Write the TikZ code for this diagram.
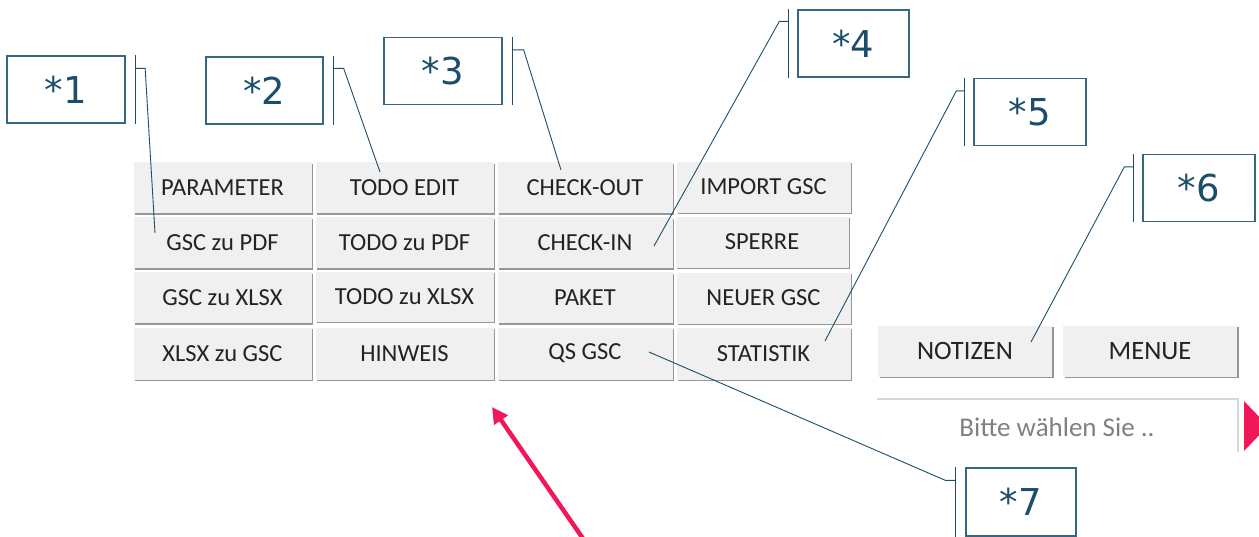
\documentclass[tikz,border=0pt]{standalone}
\usepackage{fontspec}
\setmainfont{Carlito}
\newfontfamily\calloutfont{DejaVu Sans}
\usetikzlibrary{shadows,arrows.meta}
\definecolor{teal1}{RGB}{27,78,106}
\definecolor{teal2}{RGB}{52,104,130}
\definecolor{btnfill}{RGB}{240,240,240}
\definecolor{btnshadow}{RGB}{150,150,150}
\definecolor{btntext}{RGB}{35,35,35}
\definecolor{redarrow}{RGB}{240,24,88}
\definecolor{boxline}{RGB}{215,215,215}
\tikzset{
  btn/.style={fill=btnfill, draw=none, text=btntext, font=\fontsize{24.5}{26}\selectfont,
    inner sep=0pt, anchor=center,
    drop shadow={shadow xshift=1.6pt, shadow yshift=-1.6pt, fill=btnshadow, opacity=1}},
  bigbtn/.style={btn, font=\fontsize{26.5}{28}\selectfont},
  callout/.style={draw=teal2, line width=1.3pt, text=teal1, inner sep=0pt,
    minimum width=113pt, minimum height=67pt, font=\calloutfont\fontsize{37}{40}\selectfont},
  leader/.style={draw=teal1, line width=0.9pt},
  barline/.style={draw=teal1, line width=1.1pt},
}
\begin{document}
\begin{tikzpicture}[x=1pt,y=-1pt]
\useasboundingbox (0,0) rectangle (1259,536);
% buttons grid
\foreach \name/\txt/\cx/\cy/\w/\h in {
  b11/PARAMETER/222.5/187.5/178/51, b12/TODO EDIT/404.5/187.5/178/51, b13/CHECK-OUT/585/187.5/175/51, b14/IMPORT GSC/763.5/187/174/51,
  b21/GSC zu PDF/222.5/242.5/178/51, b22/TODO zu PDF/404.5/242.5/178/51, b23/CHECK-IN/585/242.5/175/51, b24/SPERRE/762/242/173/51,
  b31/GSC zu XLSX/222.5/297.5/178/51, b32/TODO zu XLSX/404.5/296.5/178/50, b33/PAKET/585/297.5/175/51, b34/NEUER GSC/763.5/298/174/51,
  b41/XLSX zu GSC/222.5/353.5/178/52, b42/HINWEIS/404.5/353.5/178/52, b43/QS GSC/585/353.5/175/52, b44/STATISTIK/763.5/353.5/174/52}
  \node[btn, minimum width=\w pt, minimum height=\h pt] (\name) at (\cx,\cy) {\txt};
\node[bigbtn, minimum width=174pt, minimum height=51pt] (notizen) at (965,351) {NOTIZEN};
\node[bigbtn, minimum width=174pt, minimum height=51pt] (menue) at (1150,351) {MENUE};
% selection box
\coordinate (selTL) at (877,399);
\coordinate (selTR) at (1238,399);
\coordinate (selBR) at (1238,452);
\draw[boxline, line width=1.5pt] (selTL) -- (selTR) -- (selBR);
\node[text=gray, font=\fontsize{27}{29}\selectfont] (bitte) at (1057,427) {Bitte wählen Sie ..};
\coordinate (triA) at (1244,401);
\coordinate (triB) at (1244,451);
\coordinate (triC) at (1268,426);
\fill[redarrow] (triA) -- (triC) -- (triB) -- cycle;
% callouts
\node[callout, minimum width=118pt] (c1) at (66,89.5) {*1};
\node[callout, minimum width=117pt] (c2) at (264.5,90.5) {*2};
\node[callout, minimum width=118pt] (c3) at (443,71) {*3};
\node[callout, minimum width=111pt] (c4) at (853.5,43.5) {*4};
\node[callout, minimum width=112pt] (c5) at (1030,112) {*5};
\node[callout, minimum width=112pt] (c6) at (1199,188) {*6};
\node[callout, minimum width=110pt, minimum height=68pt] (c7) at (1021,502) {*7};
% bars
\draw[barline] ([xshift=9.5pt]c1.north east) -- ([xshift=9.5pt]c1.south east);
\draw[barline] ([xshift=10pt]c2.north east) -- ([xshift=10pt]c2.south east);
\draw[barline] ([xshift=10pt]c3.north east) -- ([xshift=10pt]c3.south east);
\draw[barline] ([xshift=-9pt]c4.north west) -- ([xshift=-9pt]c4.south west);
\draw[barline] ([xshift=-9pt]c5.north west) -- ([xshift=-9pt]c5.south west);
\draw[barline] ([xshift=-9pt]c6.north west) -- ([xshift=-9pt]c6.south west);
\draw[barline] ([xshift=-10pt]c7.north west) -- ([xshift=-10pt]c7.south west);
% leader end points
\coordinate (e1) at (155,233);
\coordinate (e2) at (380,172);
\coordinate (e3) at (561,170);
\coordinate (e4) at (654,246);
\coordinate (e5) at (825,341);
\coordinate (e6) at (1031,342);
\coordinate (e7) at (649,352);
\draw[leader] ([xshift=9.5pt,yshift=-13pt]c1.north east) -- ++(10,0) -- (e1);
\draw[leader] ([xshift=10pt,yshift=-12pt]c2.north east) -- ++(10,0) -- (e2);
\draw[leader] ([xshift=10pt,yshift=-13pt]c3.north east) -- ++(11,0) -- (e3);
\draw[leader] ([xshift=-9pt,yshift=-12pt]c4.north west) -- ++(-9,0) -- (e4);
\draw[leader] ([xshift=-9pt,yshift=-13pt]c5.north west) -- ++(-8,0) -- (e5);
\draw[leader] ([xshift=-9pt,yshift=-13pt]c6.north west) -- ++(-9,0) -- (e6);
\draw[leader] ([xshift=-10pt,yshift=-13pt]c7.north west) -- ++(-10,0) -- (e7);
% red arrow
\coordinate (aTail) at (584,540);
\coordinate (aTip) at (492,407);
\draw[redarrow, line width=4.5pt, -{Triangle[length=16pt,width=16pt]}] (aTail) -- (aTip);
\end{tikzpicture}
\end{document}
